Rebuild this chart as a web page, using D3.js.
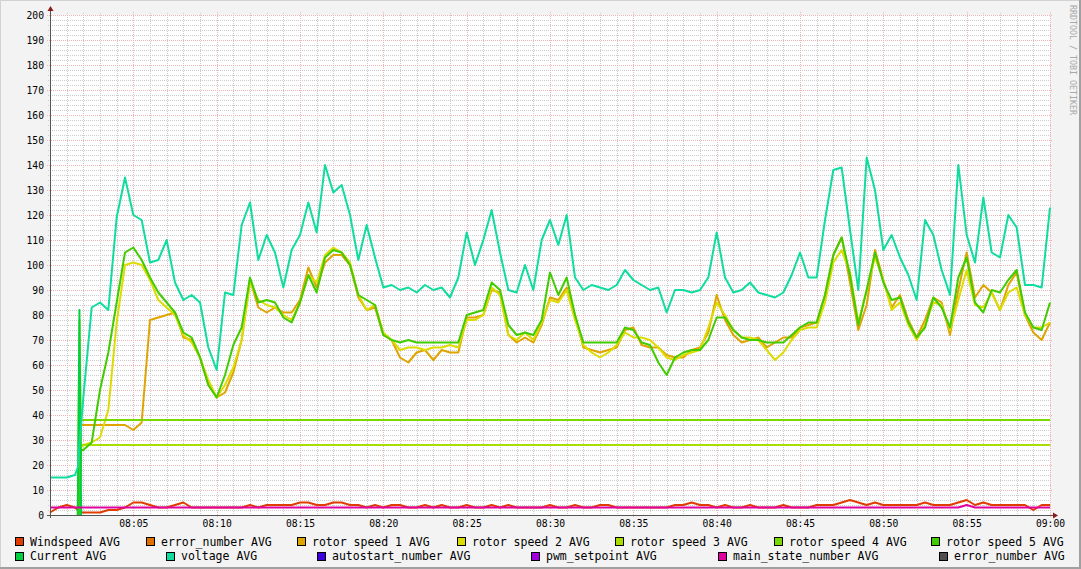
<!DOCTYPE html>
<html><head><meta charset="utf-8">
<script src="https://cdn.jsdelivr.net/npm/d3@7/dist/d3.min.js"></script>
<style>
html,body{margin:0;padding:0;background:#f3f3f3;}
svg{display:block;}
text{font-family:"DejaVu Sans Mono",monospace;}
</style></head><body>
<svg id="chart" width="1081" height="569"></svg>
<script>
// ---------------- DATA ----------------
const N = null;
// sample times, seconds after 08:00:00 (30 s steps, plus three start-up samples)
const times = [0,30,60,90,100,106,112].concat(d3.range(120, 3601, 30));

const windspeed = [1,3,4,3, 2,1,1,
  1,1,1,2,2,3,5,5,4,3,
  3,4,5,3,3,3,3,3,3,3,
  4,3,4,4,4,4,5,5,4,4,
  5,5,4,4,3,4,3,4,4,3,
  3,4,3,4,3,3,4,3,3,4,
  3,4,3,3,3,3,4,3,3,4,
  3,3,4,4,3,3,3,3,3,3,
  3,4,4,5,4,4,3,4,3,3,
  4,3,3,3,4,3,3,3,4,4,
  4,5,6,5,4,5,4,4,4,4,
  4,5,4,4,4,5,6,4,5,4,
  4,4,4,4,2,4,4];

const rotor1 = [N,N,N,N, N,0,36,
  36,36,36,36,36,36,34,37,78,79,
  80,81,71,70,63,52,47,49,57,70,
  94,83,81,83,81,81,86,99,91,101,
  104,104,100,87,82,83,72,70,63,61,
  65,66,62,66,65,65,79,79,80,90,
  89,72,69,71,69,76,87,86,91,80,
  67,66,65,66,67,74,75,68,67,67,
  64,63,63,66,67,73,88,78,72,69,
  70,71,67,69,71,71,75,76,77,88,
  104,111,93,74,84,106,94,83,88,78,
  71,78,87,85,72,90,105,87,92,89,
  82,92,97,80,73,70,77];

const rotor2 = [N,N,N,N, N,0,27,
  28,29,31,42,77,100,101,100,94,86,
  83,80,72,69,63,54,47,52,59,70,
  93,86,84,83,80,78,85,96,93,104,
  107,105,101,88,82,84,73,70,66,67,
  67,66,67,67,68,67,78,78,80,91,
  88,72,70,73,70,77,86,85,90,78,
  68,65,63,65,68,73,71,71,70,67,
  63,62,64,65,66,75,85,80,74,71,
  71,70,66,62,65,70,74,75,75,85,
  101,106,97,77,90,103,94,82,85,76,
  70,76,85,84,74,86,98,84,83,89,
  82,89,91,80,75,75,77];

const rotor3 = [N,N,N,N, 0,78,28,
  28,28,28,28,28,28,28,28,28,28,
  28,28,28,28,28,28,28,28,28,28,
  28,28,28,28,28,28,28,28,28,28,
  28,28,28,28,28,28,28,28,28,28,
  28,28,28,28,28,28,28,28,28,28,
  28,28,28,28,28,28,28,28,28,28,
  28,28,28,28,28,28,28,28,28,28,
  28,28,28,28,28,28,28,28,28,28,
  28,28,28,28,28,28,28,28,28,28,
  28,28,28,28,28,28,28,28,28,28,
  28,28,28,28,28,28,28,28,28,28,
  28,28,28,28,28,28,28];

const rotor4 = [N,N,N,N, N,0,38,
  38,38,38,38,38,38,38,38,38,38,
  38,38,38,38,38,38,38,38,38,38,
  38,38,38,38,38,38,38,38,38,38,
  38,38,38,38,38,38,38,38,38,38,
  38,38,38,38,38,38,38,38,38,38,
  38,38,38,38,38,38,38,38,38,38,
  38,38,38,38,38,38,38,38,38,38,
  38,38,38,38,38,38,38,38,38,38,
  38,38,38,38,38,38,38,38,38,38,
  38,38,38,38,38,38,38,38,38,38,
  38,38,38,38,38,38,38,38,38,38,
  38,38,38,38,38,38,38];

const rotor5 = [N,N,N,N, N,0,26,
  26,29,50,65,85,105,107,102,95,89,
  85,81,73,71,63,52,47,56,68,75,
  95,85,86,85,79,77,85,96,89,103,
  106,105,100,88,86,84,72,70,69,70,
  69,69,69,69,69,69,80,81,82,93,
  90,76,72,73,72,78,97,88,95,80,
  69,69,69,69,69,75,74,69,68,61,
  56,63,65,66,66,70,79,79,74,71,
  70,70,69,69,69,72,75,77,77,88,
  104,111,96,76,90,105,93,86,87,77,
  71,75,87,83,75,95,103,85,81,90,
  89,94,98,81,75,74,85];

const current = [N,N,N,N, 0,82,0,
  N,N,N,N,N,N,N,N,N,N,
  N,N,N,N,N,N,N,N,N,N,
  N,N,N,N,N,N,N,N,N,N,
  N,N,N,N,N,N,N,N,N,N,
  N,N,N,N,N,N,N,N,N,N,
  N,N,N,N,N,N,N,N,N,N,
  N,N,N,N,N,N,N,N,N,N,
  N,N,N,N,N,N,N,N,N,N,
  N,N,N,N,N,N,N,N,N,N,
  N,N,N,N,N,N,N,N,N,N,
  N,N,N,N,N,N,N,N,N,N,
  N,N,N,N,N,N,N];

const voltage = [15,15,15,16, 19,28,36,
  47,83,85,82,119,135,120,118,101,102,
  110,93,86,88,85,67,58,89,88,116,
  125,102,112,105,91,106,112,125,113,140,
  129,132,120,102,116,103,91,92,90,91,
  89,92,90,91,87,95,113,100,110,122,
  105,90,89,100,90,110,118,108,120,95,
  90,92,91,90,92,98,94,92,90,91,
  81,90,90,89,90,95,113,95,89,90,
  93,89,88,87,89,96,105,95,95,118,
  138,139,114,90,143,130,106,112,103,96,
  86,118,112,98,88,140,112,101,127,105,
  103,120,115,92,92,91,123];

const mainState = [3,3,3,3, 3,3,3,
  3,3,3,3,3,3,3,3,3,3,
  3,3,3,3,3,3,3,3,3,3,
  3,3,3,3,3,3,3,3,3,3,
  3,3,3,3,3,3,3,3,3,3,
  3,3,3,3,3,3,3,3,3,3,
  3,3,3,3,3,3,3,3,3,3,
  3,3,3,3,3,3,3,3,3,3,
  3,3,3,3,3,3,3,3,3,3,
  3,3,3,3,3,3,3,3,3,3,
  3,3,3,3,3,3,3,3,3,3,
  3,3,3,3,3,3,4,3,3,3,
  3,3,3,3,3,3,3];

// error_number, autostart_number, pwm_setpoint, error_number: no visible data (at 0)

const yTicks = [0,10,20,30,40,50,60,70,80,90,100,110,120,130,140,150,160,170,180,190,200];
const xTickLabels = ["08:05","08:10","08:15","08:20","08:25","08:30","08:35","08:40","08:45","08:50","08:55","09:00"];

const legendRow1 = ["Windspeed AVG","error_number AVG","rotor speed 1 AVG","rotor speed 2 AVG","rotor speed 3 AVG","rotor speed 4 AVG","rotor speed 5 AVG"];
const legendRow2 = ["Current AVG","voltage AVG","autostart_number AVG","pwm_setpoint AVG","main_state_number AVG","error_number AVG"];
const colorsRow1 = ["#e03c00","#e07000","#e0a400","#dcdc00","#aadc00","#7ad800","#40cc00"];
const colorsRow2 = ["#00d040","#10dca0","#3c00e0","#a000e0","#e000a0","#505050"];

// ---------------- CHART ----------------
const svg = d3.select("#chart");
const W = 1081, H = 569;
const L = 50, R = 1050, T = 15, B = 515;

[windspeed,rotor1,rotor2,rotor3,rotor4,rotor5,current,voltage,mainState].forEach((a,i)=>{
  if (a.length !== times.length) throw new Error("series "+i+" length "+a.length+" != "+times.length);
});

const base = new Date(2020,0,1,8,0,0);
const toDate = s => new Date(base.getTime() + s*1000);
const x = d3.scaleTime().domain([base, new Date(2020,0,1,9,0,0)]).range([L, R]);
const y = d3.scaleLinear().domain([0, 200]).range([B, T]);

svg.append("rect").attr("width", W).attr("height", H).attr("fill", "#f3f3f3");
svg.append("rect").attr("x", L).attr("y", T).attr("width", R-L).attr("height", B-T).attr("fill", "#ffffff");

// grid
const grid = svg.append("g").attr("shape-rendering","crispEdges");
const minorX = x.ticks(d3.timeMinute.every(1)).filter(d => d.getMinutes() % 5 !== 0);
const majorX = x.ticks(d3.timeMinute.every(5));
const minorY = y.ticks(100).filter(v => v % 10 !== 0);
const majorY = y.ticks(20);
grid.selectAll(".mnx").data(minorX).join("line")
  .attr("x1", d => Math.round(x(d))+0.5).attr("x2", d => Math.round(x(d))+0.5)
  .attr("y1", T-2).attr("y2", B+2)
  .attr("stroke", "#cccccc").attr("stroke-dasharray","1,1");
grid.selectAll(".mny").data(minorY).join("line")
  .attr("y1", d => Math.round(y(d))+0.5).attr("y2", d => Math.round(y(d))+0.5)
  .attr("x1", L-2).attr("x2", R+2)
  .attr("stroke", "#cccccc").attr("stroke-dasharray","1,1");
grid.selectAll(".mjx").data(majorX).join("line")
  .attr("x1", d => Math.round(x(d))+0.5).attr("x2", d => Math.round(x(d))+0.5)
  .attr("y1", T-3).attr("y2", B+3)
  .attr("stroke", "#f0b6b6").attr("stroke-dasharray","1,1");
grid.selectAll(".mjy").data(majorY).join("line")
  .attr("y1", d => Math.round(y(d))+0.5).attr("y2", d => Math.round(y(d))+0.5)
  .attr("x1", L-3).attr("x2", R+3)
  .attr("stroke", "#f0b6b6").attr("stroke-dasharray","1,1");

// series
const line = d3.line()
  .defined(d => d[1] !== null)
  .x(d => x(toDate(d[0])))
  .y(d => y(d[1]));
const seriesDraw = [
  [windspeed, colorsRow1[0]],
  [rotor1, colorsRow1[2]],
  [rotor2, colorsRow1[3]],
  [rotor3, colorsRow1[4]],
  [rotor4, colorsRow1[5]],
  [rotor5, colorsRow1[6]],
  [current, colorsRow2[0]],
  [voltage, colorsRow2[1]],
  [mainState, colorsRow2[4]]
];
const plot = svg.append("g");
seriesDraw.forEach(([vals, col]) => {
  plot.append("path")
    .datum(times.map((t,i) => [t, vals[i]]))
    .attr("d", line)
    .attr("fill", "none")
    .attr("stroke", col)
    .attr("stroke-width", 2)
    .attr("stroke-linejoin", "round");
});

// axes
const yAxis = svg.append("g").attr("transform", `translate(${L},0)`)
  .call(d3.axisLeft(y).tickValues(yTicks).tickSize(0).tickPadding(6));
yAxis.select(".domain").remove();
yAxis.selectAll("text").attr("font-size", "9.7px").attr("fill", "#000");

const xTickDates = xTickLabels.map(s => new Date(2020,0,1,+s.slice(0,2),+s.slice(3,5),0));
const xAxis = svg.append("g").attr("transform", `translate(0,${B})`)
  .call(d3.axisBottom(x).tickValues(xTickDates).tickFormat((d,i) => xTickLabels[i]).tickSize(0).tickPadding(5));
xAxis.select(".domain").remove();
xAxis.selectAll("text").attr("font-size", "9.7px").attr("fill", "#000");

svg.append("line").attr("x1", L+0.5).attr("x2", L+0.5).attr("y1", B+3).attr("y2", T-6)
  .attr("stroke", "#555").attr("shape-rendering","crispEdges");
svg.append("line").attr("x1", L-3).attr("x2", R+4).attr("y1", B+0.5).attr("y2", B+0.5)
  .attr("stroke", "#555").attr("shape-rendering","crispEdges");
svg.append("path").attr("d", `M${L-2.5},${T-4}L${L+3.5},${T-4}L${L+0.5},${T-9}Z`).attr("fill", "#8b1a1a");
svg.append("path").attr("d", `M${R+3},${B-2.5}L${R+3},${B+3.5}L${R+8},${B+0.5}Z`).attr("fill", "#8b1a1a");

// legend
const row1X = [15,146,297,457,615,774,931];
const row2X = [15,166,317,531,718,939];
function legendRow(labels, colors, xs, yTop, baseline) {
  const g = svg.append("g");
  labels.forEach((lab, i) => {
    g.append("rect").attr("x", xs[i]+0.5).attr("y", yTop+0.5).attr("width", 8).attr("height", 8)
      .attr("fill", colors[i]).attr("stroke", "#000").attr("stroke-width", 1);
    g.append("text").attr("x", xs[i]+15).attr("y", baseline).attr("font-size", "11.5px")
      .attr("fill", "#000").text(lab);
  });
}
legendRow(legendRow1, colorsRow1, row1X, 537, 546);
legendRow(legendRow2, colorsRow2, row2X, 552, 560);

// watermark
svg.append("text").attr("transform", "translate(1070,5) rotate(90)")
  .attr("font-size", "8.3px").attr("fill", "#a8a8a8").text("RRDTOOL / TOBI OETIKER");

// frame
svg.append("rect").attr("x", 0).attr("y", 0).attr("width", W).attr("height", 1).attr("fill", "#d2d2d2");
svg.append("rect").attr("x", 0).attr("y", 0).attr("width", 1).attr("height", H).attr("fill", "#d2d2d2");
svg.append("rect").attr("x", W-2).attr("y", 0).attr("width", 2).attr("height", H).attr("fill", "#a0a0a0");
svg.append("rect").attr("x", 0).attr("y", H-2).attr("width", W).attr("height", 2).attr("fill", "#a0a0a0");
</script>
</body></html>
